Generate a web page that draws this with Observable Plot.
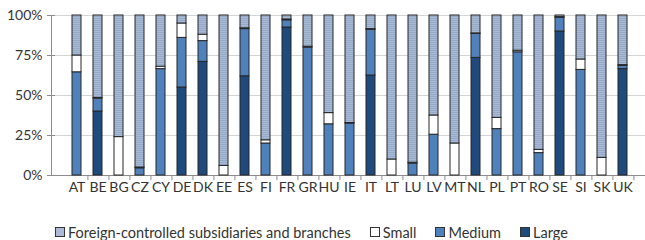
<!DOCTYPE html>
<html>
<head>
<meta charset="utf-8">
<script src="https://cdn.jsdelivr.net/npm/d3@7"></script>
<script src="https://cdn.jsdelivr.net/npm/@observablehq/plot@0.6"></script>
<style>
  html, body { margin: 0; padding: 0; background: #fff; overflow: hidden; }
  #chart svg { display: block; }
  .legend { display: flex; align-items: center; font-family: Lato, "Open Sans", sans-serif; font-size: 14.5px; color: #333; padding-left: 55px; height: 22px; margin-top: 7px; }
  .legend .item { display: flex; align-items: center; margin-right: 19px; }
  .legend .sw { width: 8px; height: 8px; border: 1px solid #333; margin-right: 3px; box-sizing: content-box; }
</style>
</head>
<body>
<div id="chart"></div>
<script>
const countries = ["AT","BE","BG","CZ","CY","DE","DK","EE","ES","FI","FR","GR","HU","IE","IT","LT","LU","LV","MT","NL","PL","PT","RO","SE","SI","SK","UK"];
const large   = [0, 40, 0, 0, 0, 55, 71, 0, 62, 0, 92.5, 0, 0, 0, 62.5, 0, 0, 0, 0, 73.5, 0, 0, 0, 90, 0, 0, 66.5];
const medium  = [64.5, 8, 0, 4.5, 66.5, 31, 13, 0, 29.5, 20, 4.5, 80, 32, 32.5, 28.5, 0, 7.5, 25.5, 0, 15, 29, 77, 14, 8.5, 66, 0, 2];
const small   = [10.5, 0.5, 24, 0.5, 1.5, 9, 4, 6, 0.5, 2, 0.5, 0.5, 7, 0.3, 0.5, 10, 0.5, 12, 20, 0.3, 7, 1, 2, 0.5, 6.5, 11, 0.5];
const foreign = [25, 51.5, 76, 95, 32, 5, 12, 94, 8, 78, 2.5, 19.5, 61, 67.2, 8.5, 90, 92, 62.5, 80, 11.2, 64, 22, 84, 1, 27.5, 89, 31];
const seriesNames = ["Large", "Medium", "Small", "Foreign-controlled subsidiaries and branches"];
const yTicks = [0, 25, 50, 75, 100];

const seriesValues = [large, medium, small, foreign];
const data = [];
seriesValues.forEach((vals, si) => {
  countries.forEach((c, i) => {
    if (vals[i] > 0) data.push({country: c, series: seriesNames[si], value: vals[i]});
  });
});

const fills = {
  "Large": "#1f4a7e",
  "Medium": "#4f81bd",
  "Small": "#ffffff",
  "Foreign-controlled subsidiaries and branches": "url(#foreignPat)"
};

const defsMark = () => {
  const defs = d3.create("svg:defs");
  const p = defs.append("pattern").attr("id", "foreignPat").attr("patternUnits", "userSpaceOnUse")
    .attr("width", 4).attr("height", 2);
  p.append("rect").attr("width", 4).attr("height", 2).attr("fill", "#a9bad4");
  p.append("rect").attr("width", 4).attr("height", 1).attr("fill", "#95a9c8");
  return defs.node();
};

const W = 645;
const step = (W - 55) / countries.length;

const chart = Plot.plot({
  width: W,
  height: 214,
  marginTop: 15,
  marginBottom: 39,
  marginLeft: 51,
  marginRight: 0,
  style: {fontFamily: "Lato, 'Open Sans', sans-serif", fontSize: "14px", color: "#333", background: "#fff"},
  x: {domain: countries, padding: 0.56, insetLeft: 4, label: null},
  y: {domain: [0, 100], label: null},
  marks: [
    defsMark,
    Plot.gridY(yTicks.slice(1), {stroke: "#d4d4d4", strokeOpacity: 1}),
    Plot.ruleY([0], {stroke: "#8c8c8c"}),
    Plot.ruleX(countries, {x: d => d, dx: step / 2, y1: 0, y2: -3.2, stroke: "#8c8c8c"}),
    Plot.barY(data, {
      x: "country", y: "value", z: "series",
      fill: d => fills[d.series],
      stroke: "#262626", strokeWidth: 1,
      order: seriesNames
    }),
    Plot.frame({anchor: "left", stroke: "#8c8c8c"}),
    Plot.axisY(yTicks, {tickFormat: d => d + "%", tickSize: 4, tickPadding: 5, stroke: "#8c8c8c", fill: "#333", fontSize: 14}),
    Plot.axisY(yTicks, {tickFormat: null, tickSize: 4, anchor: "left", dx: 4, stroke: "#8c8c8c", text: null}),
    Plot.axisX({tickSize: 0, tickPadding: 7, fill: "#333", fontSize: 14})
  ]
});
document.getElementById("chart").appendChild(chart);

const legendItems = [
  {name: seriesNames[3], bg: "#a9bad4"},
  {name: seriesNames[2], bg: "#ffffff"},
  {name: seriesNames[1], bg: fills["Medium"]},
  {name: seriesNames[0], bg: fills["Large"]}
];
const legend = document.createElement("div");
legend.className = "legend";
legendItems.forEach(it => {
  const item = document.createElement("span");
  item.className = "item";
  const sw = document.createElement("span");
  sw.className = "sw";
  sw.style.background = it.bg;
  const t = document.createElement("span");
  t.textContent = it.name;
  item.appendChild(sw); item.appendChild(t);
  legend.appendChild(item);
});
document.body.appendChild(legend);
</script>
</body>
</html>
